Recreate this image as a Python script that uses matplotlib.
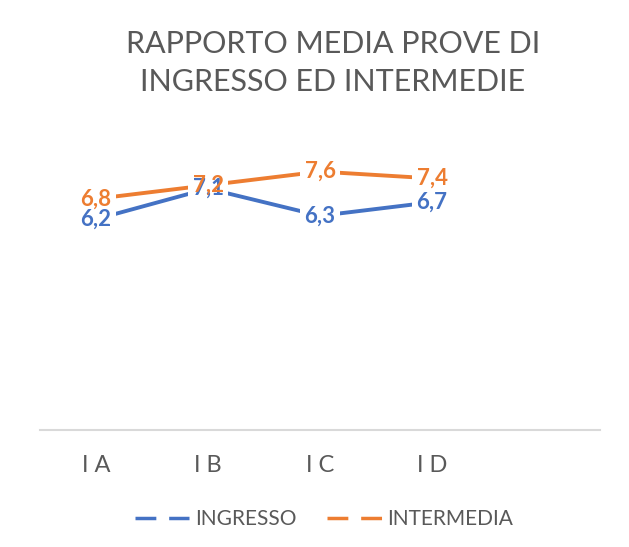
import matplotlib
matplotlib.use("Agg")
import matplotlib.pyplot as plt
from matplotlib.lines import Line2D

plt.rcParams['font.family'] = ['Lato', 'DejaVu Sans']

# data
categories = ["I A", "I B", "I C", "I D"]
ingresso = [6.2, 7.1, 6.3, 6.7]
intermedia = [6.8, 7.2, 7.6, 7.4]
n_slots = 5  # the excel range had one empty row at the end

blue = "#4472C4"
orange = "#ED7D31"
grey_txt = "#595959"

fig = plt.figure(figsize=(6.29, 5.47), dpi=100)
ax = fig.add_axes([40 / 629, 117 / 547, 560 / 629, 306 / 547])

x = list(range(len(categories)))
ax.plot(x, ingresso, color=blue, lw=2.8, solid_capstyle='butt', zorder=2)
ax.plot(x, intermedia, color=orange, lw=2.8, solid_capstyle='butt', zorder=2)

# data labels: white patches first (hide the line under the label), then text
def fmt(v):
    return f"{v:.1f}".replace(".", ",")

for series, col in [(ingresso, blue), (intermedia, orange)]:
    for xi, v in zip(x, series):
        ax.text(xi, v, fmt(v), ha='center', va='center', fontsize=16, fontweight='bold',
                color='white', zorder=3,
                bbox=dict(boxstyle='square,pad=0.22', fc='white', ec='none'))
for series, col in [(ingresso, blue), (intermedia, orange)]:
    for xi, v in zip(x, series):
        ax.text(xi, v, fmt(v), ha='center', va='center', fontsize=16, fontweight='bold',
                color=col, zorder=4)

ax.set_xlim(-0.5, n_slots - 0.5)
ax.set_ylim(0, 9)
ax.set_xticks(x)
ax.set_xticklabels(categories, fontsize=17, color=grey_txt)
ax.tick_params(axis='x', length=0, pad=18)
ax.set_yticks([])
for s in ['top', 'right', 'left']:
    ax.spines[s].set_visible(False)
ax.spines['bottom'].set_color('#D9D9D9')
ax.spines['bottom'].set_linewidth(1.5)

fig.text(333 / 629, 1 - 63 / 547, "RAPPORTO MEDIA PROVE DI\nINGRESSO ED INTERMEDIE",
         ha='center', va='center', fontsize=22, color=grey_txt, linespacing=1.4)

handles = [Line2D([], [], color=blue, lw=2.5, dashes=(6.0, 3.7)),
           Line2D([], [], color=orange, lw=2.5, dashes=(6.0, 3.7))]
fig.legend(handles, ["INGRESSO", "INTERMEDIA"], loc='center',
           bbox_to_anchor=(324 / 629, 1 - 519 / 547), ncol=2, frameon=False,
           fontsize=15, labelcolor=grey_txt, handlelength=2.6, handletextpad=0.25,
           columnspacing=1.5)

fig.savefig("out.png", dpi=100)
